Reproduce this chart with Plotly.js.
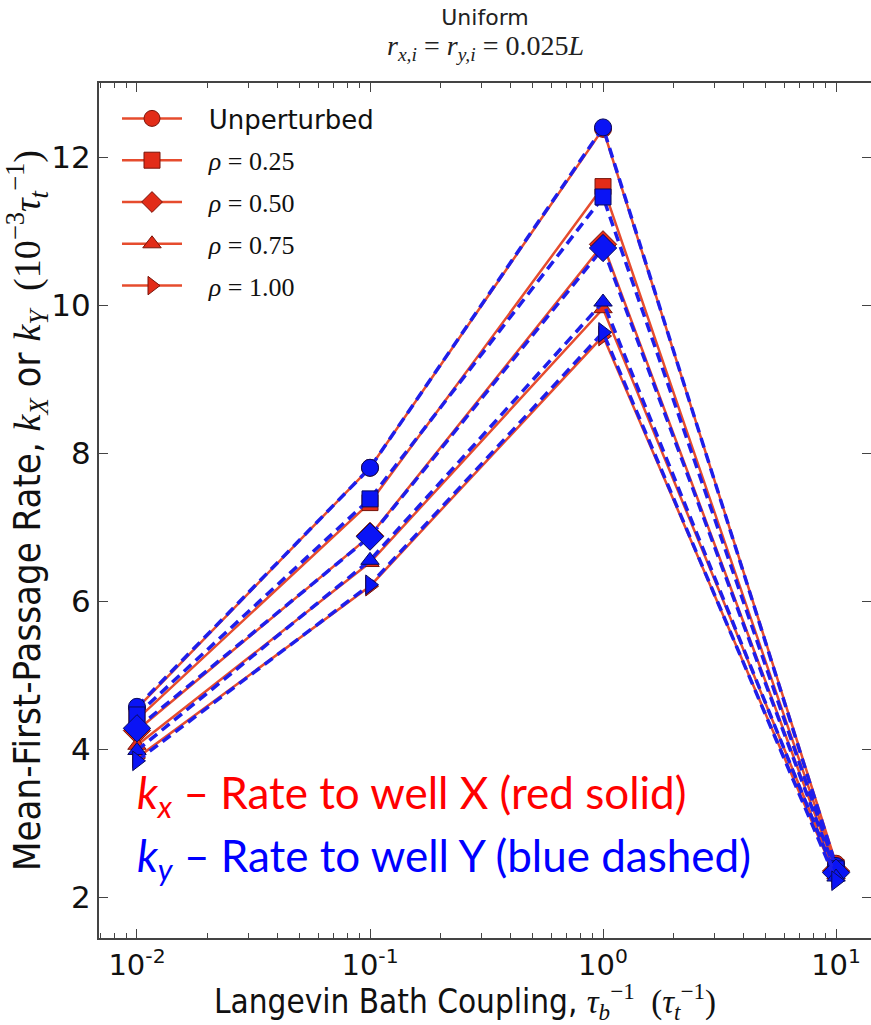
<!DOCTYPE html>
<html>
<head>
<meta charset="utf-8">
<script src="https://cdn.plot.ly/plotly-3.0.1.min.js"></script>
<style>html,body{margin:0;padding:0;background:#fff;}#chart{width:871px;height:1025px;}</style>
</head>
<body>
<div id="chart"></div>
<script>
// ---- data ----
const coupling = [0.01, 0.1, 1, 10];
const seriesNames = ['Unperturbed', 'ρ=0.25', 'ρ=0.50', 'ρ=0.75', 'ρ=1.00'];
const kxUnperturbed = [4.55, 7.80, 12.38, 2.45];
const kx025 = [4.40, 7.33, 11.60, 2.40];
const kx050 = [4.25, 6.88, 10.82, 2.35];
const kx075 = [4.05, 6.52, 9.95, 2.30];
const kx100 = [3.88, 6.20, 9.58, 2.26];
const kyUnperturbed = [4.57, 7.80, 12.40, 2.42];
const ky025 = [4.46, 7.38, 11.46, 2.38];
const ky050 = [4.28, 6.87, 10.77, 2.33];
const ky075 = [3.98, 6.55, 10.04, 2.27];
const ky100 = [3.84, 6.22, 9.63, 2.22];
const xTickVals = [0.01, 0.1, 1, 10];
const xTickText = ['10<sup>-2</sup>', '10<sup>-1</sup>', '10<sup>0</sup>', '10<sup>1</sup>'];
const yTickVals = [2, 4, 6, 8, 10, 12];

// ---- styling ----
const symbols = ['circle', 'square', 'diamond', 'triangle-up', 'triangle-right'];
const sizes = [17, 16, 21, 16, 17];
const redLine = 'rgb(230,76,46)';
const redFill = 'rgb(226,44,24)';
const redEdge = 'rgb(120,20,10)';
const blueLine = 'rgb(30,30,235)';
const blueFill = 'rgb(10,20,245)';
const blueEdge = 'rgb(10,10,90)';
const serif = 'Liberation Serif, serif';
const cond = 'DejaVu Sans Condensed, DejaVu Sans, sans-serif';

function legendLabel(name) {
  const pad = '\u00a0\u00a0\u2009';
  if (name.startsWith('ρ')) {
    return pad + '<span style="font-family:' + serif + '"><i>ρ</i> = ' + name.slice(2) + '</span>';
  }
  return pad + name;
}

const kx = [kxUnperturbed, kx025, kx050, kx075, kx100];
const ky = [kyUnperturbed, ky025, ky050, ky075, ky100];
const traces = [];
kx.forEach((vals, i) => {
  traces.push({
    x: coupling, y: vals, type: 'scatter', mode: 'lines+markers',
    name: legendLabel(seriesNames[i]), legendgroup: 'g' + i, showlegend: true,
    line: {color: redLine, width: 2.5},
    marker: {symbol: symbols[i], size: sizes[i], color: redFill, line: {color: redEdge, width: 1}}
  });
});
ky.forEach((vals, i) => {
  traces.push({
    x: coupling, y: vals, type: 'scatter', mode: 'lines+markers',
    name: seriesNames[i], legendgroup: 'g' + i, showlegend: false,
    line: {color: blueLine, width: 3.5, dash: '10px,6px'},
    marker: {symbol: symbols[i], size: sizes[i], color: blueFill, line: {color: blueEdge, width: 1}}
  });
});

const layout = {
  width: 871, height: 1025,
  margin: {l: 99, r: 0, t: 83, b: 87},
  paper_bgcolor: '#fff', plot_bgcolor: '#fff',
  showlegend: true,
  font: {family: 'DejaVu Sans, sans-serif', color: '#000'},
  title: {
    text: 'Uniform',
    x: 0.5, xref: 'paper', xanchor: 'center',
    y: 1 - 17 / 1025, yref: 'container', yanchor: 'middle',
    font: {size: 22, color: '#222', family: 'DejaVu Sans, sans-serif'}
  },
  xaxis: {
    type: 'log', range: [-2.163, 1.150],
    tickvals: xTickVals, ticktext: xTickText,
    ticks: 'inside', ticklen: 9, tickcolor: '#444', tickwidth: 1,
    minor: {ticks: 'inside', ticklen: 5, tickcolor: '#444', dtick: 'D1', showgrid: false},
    showline: true, linecolor: '#444', linewidth: 2, mirror: 'ticks',
    showgrid: false, zeroline: false,
    tickfont: {size: 29, family: 'DejaVu Sans, sans-serif', color: '#111'},
    title: {text: ''}
  },
  yaxis: {
    range: [1.446, 13.0],
    tickvals: yTickVals,
    ticks: 'inside', ticklen: 9, tickcolor: '#444', tickwidth: 1,
    showline: true, linecolor: '#444', linewidth: 2, mirror: 'ticks',
    showgrid: false, zeroline: false,
    tickfont: {size: 31, family: 'DejaVu Sans, sans-serif', color: '#111'},
    title: {text: 'Mean-First-Passage Rate, <span style="font-family:' + serif + '"><i>k<sub>X</sub></i></span> or <span style="font-family:' + serif + '"><i>k<sub>Y</sub></i>  (10<sup>−3</sup><i>τ</i><sub><i>t</i></sub><sup>−1</sup>)</span>',
      font: {size: 38, family: cond, color: '#111'}, standoff: 2}
  },
  legend: {
    x: (117 - 99) / 772, xanchor: 'left', y: (938 - 95) / 855, yanchor: 'top',
    bgcolor: 'rgba(0,0,0,0)', borderwidth: 0,
    font: {size: 26, family: 'DejaVu Sans, sans-serif', color: '#111'},
    traceorder: 'grouped', tracegroupgap: 5, itemwidth: 60
  },
  annotations: [
    {xref: 'paper', yref: 'paper', x: 0.5, y: (938 - 48) / 855, xanchor: 'center', yanchor: 'middle', showarrow: false,
      text: '<i>r</i><sub><i>x,i</i></sub> = <i>r</i><sub><i>y,i</i></sub> = 0.025<i>L</i>', font: {size: 28, family: serif, color: '#222'}},
    {xref: 'paper', yref: 'paper', x: (465 - 99) / 772, y: (938 - 1001) / 855, xanchor: 'center', yanchor: 'middle', showarrow: false,
      text: 'Langevin Bath Coupling, <span style="font-family:' + serif + '"><i>τ</i><sub><i>b</i></sub><sup>−1</sup>  (<i>τ</i><sub><i>t</i></sub><sup>−1</sup>)</span>',
      font: {size: 33, family: cond, color: '#111'}},
    {xref: 'paper', yref: 'paper', x: (135 - 99) / 772, y: (938 - 795) / 855, xanchor: 'left', yanchor: 'middle', showarrow: false,
      text: '<i>k</i><sub><i>x</i></sub> – Rate to well X (red solid)', font: {size: 44, family: 'Lato, sans-serif', color: '#ff0000'}},
    {xref: 'paper', yref: 'paper', x: (135 - 99) / 772, y: (938 - 858) / 855, xanchor: 'left', yanchor: 'middle', showarrow: false,
      text: '<i>k</i><sub><i>y</i></sub> – Rate to well Y (blue dashed)', font: {size: 44, family: 'Lato, sans-serif', color: '#0000ff'}}
  ]
};

Plotly.newPlot('chart', traces, layout, {displayModeBar: false, staticPlot: true});
</script>
</body>
</html>
